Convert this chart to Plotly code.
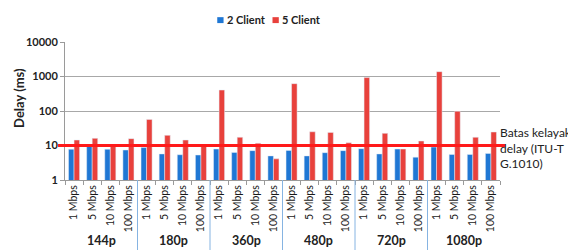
import plotly.graph_objects as go

groups = ["144p", "180p", "360p", "480p", "720p", "1080p"]
speeds = ["1 Mbps", "5 Mbps", "10 Mbps", "100 Mbps"]
client2 = [7.8, 9.7, 7.8, 7.4, 8.7, 5.7, 5.4, 5.3, 7.9, 6.3, 7.1, 5.0,
           7.2, 5.0, 6.2, 7.1, 8.1, 5.7, 7.9, 4.6, 9.0, 5.5, 5.5, 5.9]
client5 = [14.4, 16.1, 10, 15.8, 57, 19.7, 14.4, 10, 405, 17.3, 11.6, 4.1,
           620, 25, 24, 12, 930, 22.5, 7.9, 13.5, 1380, 98, 17.3, 24.6]
threshold = 10
threshold_label = "Batas kelayakan<br>delay (ITU-T<br>G.1010)"
series_names = ["2 Client", "5 Client"]
y_ticks = [1, 10, 100, 1000, 10000]

BLUE = "#1f77d4"
RED = "#e8413c"

cat_ids = [f"{g}|{s}" for g in groups for s in speeds]
cat_text = [s for _ in groups for s in speeds]
n_sp = len(speeds)

fig = go.Figure()
fig.add_trace(go.Bar(x=cat_ids, y=client2, name=series_names[0], marker_color=BLUE,
                     showlegend=False))
fig.add_trace(go.Bar(x=cat_ids, y=client5, name=series_names[1], marker_color=RED,
                     showlegend=False))

font_family = "Lato, Open Sans, Arial, sans-serif"

# page body has an 8px margin, so the figure is 8px smaller than the window
fig.update_layout(
    width=568, height=242,
    margin=dict(l=57, r=76, t=34, b=70, autoexpand=False),
    paper_bgcolor="white", plot_bgcolor="white",
    barmode="group", bargap=0.39, bargroupgap=0,
    font=dict(family=font_family, size=11, color="#222"),
    showlegend=False,
)
fig.update_xaxes(
    type="category", tickangle=-90, automargin=False,
    tickvals=cat_ids, ticktext=cat_text, tickson="boundaries",
    tickfont=dict(size=10.5, color="#1a1a1a"),
    showline=True, linecolor="#9a9a9a", linewidth=1,
    ticks="outside", ticklen=4, tickcolor="#9a9a9a",
    showgrid=False,
)
fig.update_yaxes(
    type="log", range=[0, 4], tickvals=y_ticks, automargin=False,
    ticktext=[str(v) for v in y_ticks],
    tickfont=dict(size=11, color="#222", weight="bold"),
    showgrid=True, gridcolor="#a8a8a8", gridwidth=1,
    showline=True, linecolor="#9a9a9a", linewidth=1,
    ticks="outside", ticklen=4, tickcolor="#9a9a9a",
    zeroline=False,
)

# group labels and dividers
for i, g in enumerate(groups):
    fig.add_annotation(xref="x", yref="paper", x=i * n_sp + (n_sp - 1) / 2, y=-0.442,
                       xanchor="center", yanchor="middle", text=g, showarrow=False,
                       font=dict(size=12.5, color="#222", weight="bold"))
    if i > 0:
        fig.add_shape(type="line", xref="x", yref="paper",
                      x0=i * n_sp - 0.5, x1=i * n_sp - 0.5, y0=0, y1=-0.51,
                      line=dict(color="#86b4e2", width=1))

# threshold line
fig.add_shape(type="line", xref="paper", yref="y",
              x0=-0.016, x1=1.012, y0=threshold, y1=threshold,
              line=dict(color="#ff1a1a", width=3), layer="above")
fig.add_annotation(xref="paper", yref="paper", x=0.995, y=0.232, xanchor="left", yanchor="middle",
                   text=threshold_label, showarrow=False, align="left",
                   font=dict(size=12, color="#222"))

# y-axis title
fig.add_annotation(xref="paper", yref="paper", x=-0.106, y=0.594, textangle=-90,
                   xanchor="center", yanchor="middle",
                   text="Delay (ms)", showarrow=False,
                   font=dict(size=13, color="#222", weight="bold"))

# manual legend
legend_cols = [BLUE, RED]
legend_x = [0.350, 0.477]
for name, col, lx in zip(series_names, legend_cols, legend_x):
    fig.add_shape(type="rect", xref="paper", yref="paper",
                  x0=lx, x1=lx + 0.0145, y0=1.137, y1=1.18,
                  fillcolor=col, line=dict(width=0))
    fig.add_annotation(xref="paper", yref="paper", x=lx + 0.018, y=1.16,
                       xanchor="left", yanchor="middle", text=name, showarrow=False,
                       font=dict(size=11, color="#222", weight="bold"))

fig.write_html("out.html")
